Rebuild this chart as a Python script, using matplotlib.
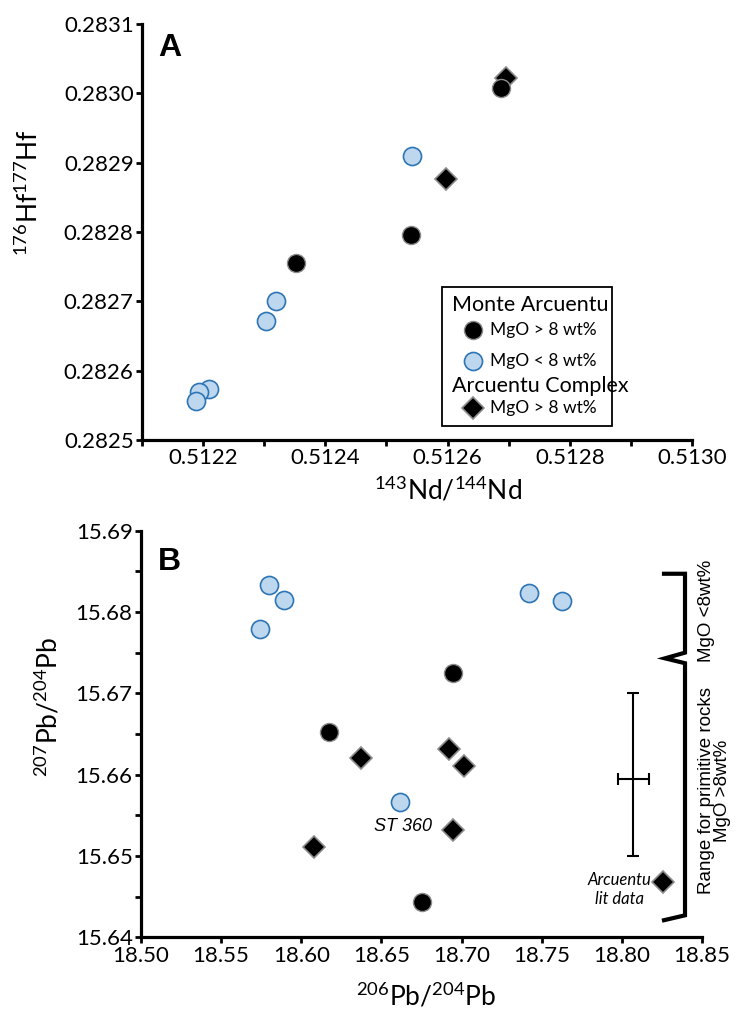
import matplotlib
matplotlib.use('Agg')
import matplotlib.pyplot as plt
from matplotlib.ticker import MultipleLocator, FormatStrFormatter
from matplotlib.patches import Rectangle

plt.rcParams['font.family'] = ['Lato', 'DejaVu Sans']
plt.rcParams['mathtext.fontset'] = 'custom'
plt.rcParams['mathtext.rm'] = 'Lato'
plt.rcParams['mathtext.it'] = 'Lato:italic'
plt.rcParams['mathtext.bf'] = 'Lato:bold'

# --- panel A: Hf vs Nd ---
mon_hi_nd = [0.512687, 0.512540, 0.512352]
mon_hi_hf = [0.283008, 0.282795, 0.282755]
mon_lo_nd = [0.512542, 0.512319, 0.512303, 0.512210, 0.512194, 0.512189]
mon_lo_hf = [0.282909, 0.282701, 0.282671, 0.282573, 0.282569, 0.282556]
cpx_nd = [0.512696, 0.512597]
cpx_hf = [0.283022, 0.282877]

# --- panel B: Pb isotopes ---
mon_hi_206 = [18.6944, 18.6173, 18.6753]
mon_hi_207 = [15.6725, 15.6653, 15.6443]
mon_lo_206 = [18.5799, 18.5892, 18.5742, 18.7419, 18.7624, 18.6616]
mon_lo_207 = [15.6833, 15.6815, 15.6779, 15.6823, 15.6813, 15.6566]
cpx_206 = [18.6372, 18.6079, 18.6923, 18.7017, 18.6948, 18.8254]
cpx_207 = [15.6621, 15.6511, 15.6631, 15.6611, 15.6532, 15.6468]

# analytical range bar (centre, x err, y err low/high)
rng_x, rng_y = 18.807, 15.6595
rng_xerr = 0.0097
rng_yerr = [[0.0095], [0.0105]]

BLUE_FACE = '#BDD7EE'
BLUE_EDGE = '#2E75B6'
GREY = '#8c8c8c'

circ_hi = dict(marker='o', ms=13, mfc='black', mec=GREY, mew=1.0, ls='none')
circ_lo = dict(marker='o', ms=13, mfc=BLUE_FACE, mec=BLUE_EDGE, mew=1.2, ls='none')
diam = dict(marker='D', ms=11, mfc='black', mec=GREY, mew=1.2, ls='none')

fig = plt.figure(figsize=(7.35, 10.10), dpi=100)
axA = fig.add_axes([0.1932, 0.5644, 0.7483, 0.4119])
axB = fig.add_axes([0.1918, 0.0720, 0.7633, 0.4026])


def style_axes(ax):
    for s in ['top', 'right']:
        ax.spines[s].set_visible(False)
    for s in ['left', 'bottom']:
        ax.spines[s].set_linewidth(2.3)
    ax.tick_params(which='both', direction='out', width=2, length=4,
                   labelsize=16, pad=2)


# panel A
axA.plot(cpx_nd, cpx_hf, **diam)
axA.plot(mon_lo_nd, mon_lo_hf, **circ_lo)
axA.plot(mon_hi_nd, mon_hi_hf, **circ_hi)
axA.set_xlim(0.5121, 0.5130)
axA.set_ylim(0.2825, 0.2831)
axA.xaxis.set_major_locator(MultipleLocator(0.0002))
axA.xaxis.set_minor_locator(MultipleLocator(0.0001))
axA.yaxis.set_major_locator(MultipleLocator(0.0001))
axA.xaxis.set_major_formatter(FormatStrFormatter('%.4f'))
axA.yaxis.set_major_formatter(FormatStrFormatter('%.4f'))
style_axes(axA)
axA.set_xlabel(r'$\mathregular{^{143}Nd/^{144}Nd}$', fontsize=19)
axA.set_ylabel(r'$\mathregular{^{176}Hf^{177}Hf}$', fontsize=19)
axA.xaxis.set_label_coords(0.556, -0.085)
axA.yaxis.set_label_coords(-0.18, 0.594)
axA.text(0.029, 0.978, 'A', transform=axA.transAxes, fontsize=23,
         fontweight='bold', family='Liberation Sans', va='top', ha='left')

# legend drawn by hand
axA.add_patch(Rectangle((0.5455, 0.0337), 0.309, 0.3341, transform=axA.transAxes,
                        fill=False, ec='black', lw=1.3, clip_on=False))
axA.text(0.5636, 0.3245, 'Monte Arcuentu', transform=axA.transAxes,
         fontsize=15.5, va='center', ha='left')
axA.plot([0.6018], [0.2644], transform=axA.transAxes, **circ_hi)
axA.text(0.6327, 0.2644, 'MgO > 8 wt%', transform=axA.transAxes,
         fontsize=12.5, va='center', ha='left')
axA.plot([0.6018], [0.1899], transform=axA.transAxes, **circ_lo)
axA.text(0.6327, 0.1899, 'MgO < 8 wt%', transform=axA.transAxes,
         fontsize=12.5, va='center', ha='left')
axA.text(0.5636, 0.1298, 'Arcuentu Complex', transform=axA.transAxes,
         fontsize=15.5, va='center', ha='left')
axA.plot([0.6018], [0.0777], transform=axA.transAxes, **diam)
axA.text(0.6327, 0.0777, 'MgO > 8 wt%', transform=axA.transAxes,
         fontsize=12.5, va='center', ha='left')

# panel B
axB.errorbar([rng_x], [rng_y], xerr=rng_xerr, yerr=rng_yerr, fmt='none',
             ecolor='black', elinewidth=1.5, capsize=4, capthick=1.5)
axB.plot(cpx_206, cpx_207, **diam)
axB.plot(mon_lo_206, mon_lo_207, **circ_lo)
axB.plot(mon_hi_206, mon_hi_207, **circ_hi)
axB.set_xlim(18.50, 18.85)
axB.set_ylim(15.64, 15.69)
axB.xaxis.set_major_locator(MultipleLocator(0.05))
axB.yaxis.set_major_locator(MultipleLocator(0.01))
axB.yaxis.set_minor_locator(MultipleLocator(0.005))
axB.xaxis.set_major_formatter(FormatStrFormatter('%.2f'))
axB.yaxis.set_major_formatter(FormatStrFormatter('%.2f'))
style_axes(axB)
axB.set_xlabel(r'$\mathregular{^{206}Pb/^{204}Pb}$', fontsize=19)
axB.set_ylabel(r'$\mathregular{^{207}Pb/^{204}Pb}$', fontsize=19)
axB.xaxis.set_label_coords(0.508, -0.11)
axB.yaxis.set_label_coords(-0.139, 0.566)
axB.text(0.030, 0.96, 'B', transform=axB.transAxes, fontsize=23,
         fontweight='bold', family='Liberation Sans', va='top', ha='left')

axB.text(18.6633, 15.6536, 'ST 360', fontsize=13, style='italic',
         family='Liberation Sans', ha='center', va='center')
axB.text(18.7985, 15.6459, 'Arcuentu\nlit data', fontsize=12, style='italic',
         ha='center', va='center', linespacing=1.25)

# brackets on the right
br_x = [18.8263, 18.8394, 18.8394, 18.8269, 18.8394, 18.8394, 18.8263]
br_y = [15.6847, 15.6847, 15.6750, 15.6743, 15.6737, 15.6427, 15.6421]
axB.plot(br_x, br_y, color='black', lw=3, clip_on=False,
         solid_joinstyle='miter')
axB.text(18.8525, 15.6801, 'MgO <8wt%', rotation=90, fontsize=13.5,
         family='Liberation Sans', ha='center', va='center', clip_on=False)
axB.text(18.8525, 15.658, 'Range for primitive rocks', rotation=90,
         fontsize=13.5, family='Liberation Sans', ha='center', va='center',
         clip_on=False)
axB.text(18.863, 15.658, 'MgO >8wt%', rotation=90, fontsize=13.5,
         family='Liberation Sans', ha='center', va='center', clip_on=False)

fig.savefig('out.png', dpi=100)
